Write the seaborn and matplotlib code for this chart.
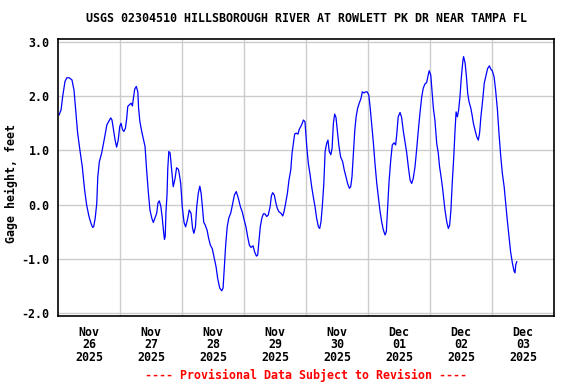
#!/usr/bin/env python3
"""USGS gage height chart, Hillsborough River at Rowlett Pk Dr near Tampa FL."""

import matplotlib
matplotlib.use("Agg")
import matplotlib.pyplot as plt
import numpy as np
import pandas as pd
import seaborn as sns

# ─────────────────────────────────────────────
# Data (hours after Nov 26 2025 00:00, gage height in feet)
# ─────────────────────────────────────────────
START = pd.Timestamp("2025-11-26 00:00")

hours = [
    0.4, 1.2, 1.8, 2.7, 3.4, 4.3, 5.4, 6.2, 6.9, 7.6, 8.5, 9.4, 10.3, 11.1,
    12.0, 12.8, 13.4, 13.8, 14.4, 15.0, 15.4, 16.0, 16.9, 17.5, 18.2, 18.9,
    19.6, 20.4, 20.9, 21.4, 22.1, 22.7, 23.3, 23.9, 24.4, 25.0, 25.5, 26.1,
    26.6, 27.0, 27.6, 28.3, 28.8, 29.1, 29.7, 30.3, 30.9, 31.2, 31.7, 32.4,
    33.0, 33.7, 34.3, 35.0, 35.6, 36.3, 36.9, 37.5, 38.2, 38.7, 39.2, 39.8,
    40.3, 40.8, 41.2, 41.5, 41.8, 42.2, 42.5, 42.9, 43.4, 44.0, 44.6, 45.3,
    45.9, 46.6, 46.9, 47.5, 48.1, 48.8, 49.4, 50.1, 50.8, 51.5, 52.1, 52.6,
    53.2, 53.7, 54.3, 54.9, 55.4, 55.9, 56.4, 57.0, 57.7, 58.3, 59.0, 59.7,
    60.5, 61.2, 61.8, 62.6, 63.4, 63.9, 64.4, 64.9, 65.5, 66.1, 66.9, 67.5,
    68.3, 69.0, 69.8, 70.6, 71.3, 72.0, 72.8, 73.4, 74.1, 74.7, 75.5, 76.1,
    76.8, 77.3, 77.8, 78.3, 78.9, 79.5, 80.1, 80.8, 81.4, 82.1, 82.6, 83.1,
    83.7, 84.4, 84.9, 85.5, 86.3, 87.0, 87.5, 88.1, 88.8, 89.4, 90.1, 90.6,
    91.1, 91.6, 92.2, 92.9, 93.4, 94.3, 95.0, 95.6, 96.3, 96.9, 97.5, 98.2,
    98.8, 99.5, 100.1, 100.8, 101.3, 101.8, 102.3, 102.9, 103.4, 104.0,
    104.5, 105.0, 105.6, 106.1, 106.6, 107.1, 107.6, 108.1, 108.7, 109.4,
    110.2, 110.8, 111.5, 112.1, 112.8, 113.3, 113.8, 114.3, 114.9, 115.4,
    116.0, 116.6, 117.3, 117.8, 118.5, 119.1, 119.7, 120.3, 120.8, 121.4,
    122.1, 122.7, 123.4, 124.0, 124.6, 125.3, 125.9, 126.6, 127.1, 127.6,
    128.1, 128.8, 129.4, 130.1, 130.7, 131.1, 131.7, 132.4, 133.0, 133.6,
    134.3, 135.0, 135.6, 136.3, 136.9, 137.5, 138.2, 138.8, 139.5, 140.1,
    140.8, 141.4, 142.1, 142.7, 143.3, 143.7, 144.3, 144.8, 145.3, 145.9,
    146.6, 147.2, 147.7, 148.3, 148.8, 149.3, 149.8, 150.5, 151.1, 151.6,
    152.1, 152.6, 153.2, 153.7, 154.1, 154.6, 155.1, 155.6, 156.1, 156.7,
    157.0, 157.6, 158.1, 158.6, 159.1, 159.8, 160.3, 160.8, 161.4, 162.1,
    162.7, 163.2, 163.7, 164.4, 165.0, 165.7, 166.3, 167.0, 167.5, 168.1,
    168.8, 169.4, 170.1, 170.7, 171.4, 172.0, 172.7, 173.3, 173.9, 174.6,
    175.2, 175.9, 176.5, 176.9, 177.2, 177.6,
]

gage_ft = [
    1.65, 1.75, 1.99, 2.27, 2.34, 2.34, 2.30, 2.11, 1.71, 1.32, 1.00, 0.70,
    0.27, -0.01, -0.22, -0.35, -0.42, -0.41, -0.25, 0.02, 0.51, 0.79, 0.95,
    1.10, 1.28, 1.47, 1.53, 1.60, 1.56, 1.41, 1.19, 1.06, 1.19, 1.44, 1.50,
    1.38, 1.35, 1.41, 1.59, 1.81, 1.84, 1.87, 1.82, 1.93, 2.13, 2.18, 2.08,
    1.78, 1.53, 1.35, 1.22, 1.07, 0.64, 0.21, -0.10, -0.25, -0.33, -0.25,
    -0.16, 0.03, 0.07, -0.03, -0.22, -0.47, -0.64, -0.59, -0.13, 0.18, 0.67,
    0.98, 0.95, 0.64, 0.33, 0.48, 0.68, 0.65, 0.58, 0.39, -0.04, -0.33,
    -0.41, -0.28, -0.10, -0.16, -0.44, -0.53, -0.41, -0.04, 0.21, 0.34, 0.21,
    -0.04, -0.32, -0.38, -0.47, -0.62, -0.75, -0.81, -0.99, -1.15, -1.36,
    -1.54, -1.59, -1.54, -1.15, -0.75, -0.41, -0.25, -0.15, -0.01, 0.18, 0.24,
    0.12, -0.04, -0.13, -0.27, -0.42, -0.59, -0.75, -0.79, -0.76, -0.87,
    -0.95, -0.93, -0.68, -0.41, -0.25, -0.17, -0.17, -0.22, -0.19, -0.04,
    0.16, 0.22, 0.18, 0.02, -0.07, -0.13, -0.16, -0.21, -0.13, 0.02, 0.21,
    0.45, 0.64, 0.95, 1.13, 1.30, 1.32, 1.30, 1.39, 1.47, 1.56, 1.53, 1.07,
    0.76, 0.58, 0.33, 0.15, -0.04, -0.25, -0.41, -0.44, -0.32, -0.04, 0.39,
    0.98, 1.13, 1.19, 0.98, 0.92, 1.04, 1.50, 1.67, 1.61, 1.38, 1.10, 0.88,
    0.79, 0.64, 0.51, 0.39, 0.30, 0.33, 0.51, 0.92, 1.38, 1.62, 1.78, 1.87,
    1.96, 2.08, 2.06, 2.08, 2.08, 2.02, 1.81, 1.50, 1.13, 0.76, 0.39, 0.15,
    -0.10, -0.32, -0.46, -0.56, -0.50, -0.07, 0.39, 0.82, 1.10, 1.14, 1.10,
    1.28, 1.62, 1.70, 1.61, 1.38, 1.16, 0.95, 0.70, 0.45, 0.39, 0.48, 0.70,
    1.00, 1.38, 1.68, 1.99, 2.15, 2.23, 2.25, 2.39, 2.47, 2.39, 2.08, 1.78,
    1.56, 1.13, 0.95, 0.70, 0.51, 0.33, 0.12, -0.10, -0.32, -0.44, -0.38,
    -0.10, 0.39, 0.88, 1.38, 1.71, 1.62, 1.75, 1.99, 2.33, 2.64, 2.73, 2.61,
    2.36, 2.05, 1.90, 1.78, 1.65, 1.50, 1.38, 1.25, 1.19, 1.32, 1.62, 1.93,
    2.24, 2.39, 2.51, 2.56, 2.50, 2.47, 2.36, 2.11, 1.75, 1.32, 0.88, 0.58,
    0.33, 0.02, -0.28, -0.59, -0.87, -1.08, -1.22, -1.26, -1.11, -1.05,
]

day_labels = ["Nov\n26\n2025", "Nov\n27\n2025", "Nov\n28\n2025", "Nov\n29\n2025",
              "Nov\n30\n2025", "Dec\n01\n2025", "Dec\n02\n2025", "Dec\n03\n2025"]
y_ticks = [-2.0, -1.0, 0.0, 1.0, 2.0, 3.0]

TITLE  = "USGS 02304510 HILLSBOROUGH RIVER AT ROWLETT PK DR NEAR TAMPA FL"
FOOTER = "---- Provisional Data Subject to Revision ----"

# ─────────────────────────────────────────────
# Style
# ─────────────────────────────────────────────
sns.set_theme(style="whitegrid")
plt.rcParams["font.family"] = ["DejaVu Sans Mono"]
plt.rcParams["font.weight"] = "bold"
for key in ("text.color", "axes.labelcolor", "xtick.color", "ytick.color"):
    plt.rcParams[key] = "black"
FS = 8.4

df = pd.DataFrame({
    "time": START + pd.to_timedelta(hours, unit="h"),
    "gage": gage_ft,
})

fig = plt.figure(figsize=(5.76, 3.84), dpi=100)
ax = fig.add_axes([58 / 576, 1 - 316 / 384, 496 / 576, 277 / 384])

sns.lineplot(data=df, x="time", y="gage", ax=ax, color="#0000ff",
             linewidth=0.9, estimator=None)

# axes limits
n_days = len(day_labels)
ax.set_xlim(START, START + pd.Timedelta(days=n_days))
ax.set_ylim(-2.055, 3.055)

# x: labels at noon, gridlines at midnight
noons = [START + pd.Timedelta(hours=12 + 24 * i) for i in range(n_days)]
midnights = [START + pd.Timedelta(days=i) for i in range(1, n_days)]
ax.set_xticks(noons)
ax.set_xticklabels(day_labels, fontsize=FS, fontweight="bold",
                   linespacing=0.95, color="black")
ax.set_xticks(midnights, minor=True)
ax.set_yticks(y_ticks)
ax.set_yticklabels([f"{v:.1f}" for v in y_ticks], fontsize=FS,
                   fontweight="bold", color="black")

ax.grid(False, which="major", axis="x")
ax.grid(True, which="minor", axis="x", color="#cccccc", linewidth=1.0)
ax.grid(True, which="major", axis="y", color="#cccccc", linewidth=1.0)
ax.tick_params(axis="both", which="both", length=0, colors="black")
ax.tick_params(axis="x", pad=7)
ax.tick_params(axis="y", pad=6)

for side in ax.spines.values():
    side.set_color("black")
    side.set_linewidth(1.2)

ax.set_xlabel("")
ax.set_ylabel("Gage height, feet", fontsize=FS, fontweight="bold",
              color="black", va="center")
ax.yaxis.set_label_coords(-0.093, 0.478)

fig.text(0.532, 1 - 19 / 384, TITLE, ha="center", va="center",
         fontsize=FS, fontweight="bold", color="black")
fig.text(0.532, 1 - 375 / 384, FOOTER, ha="center", va="center",
         fontsize=FS, fontweight="bold", color="#ff0000")

fig.savefig("out.png", dpi=100)
